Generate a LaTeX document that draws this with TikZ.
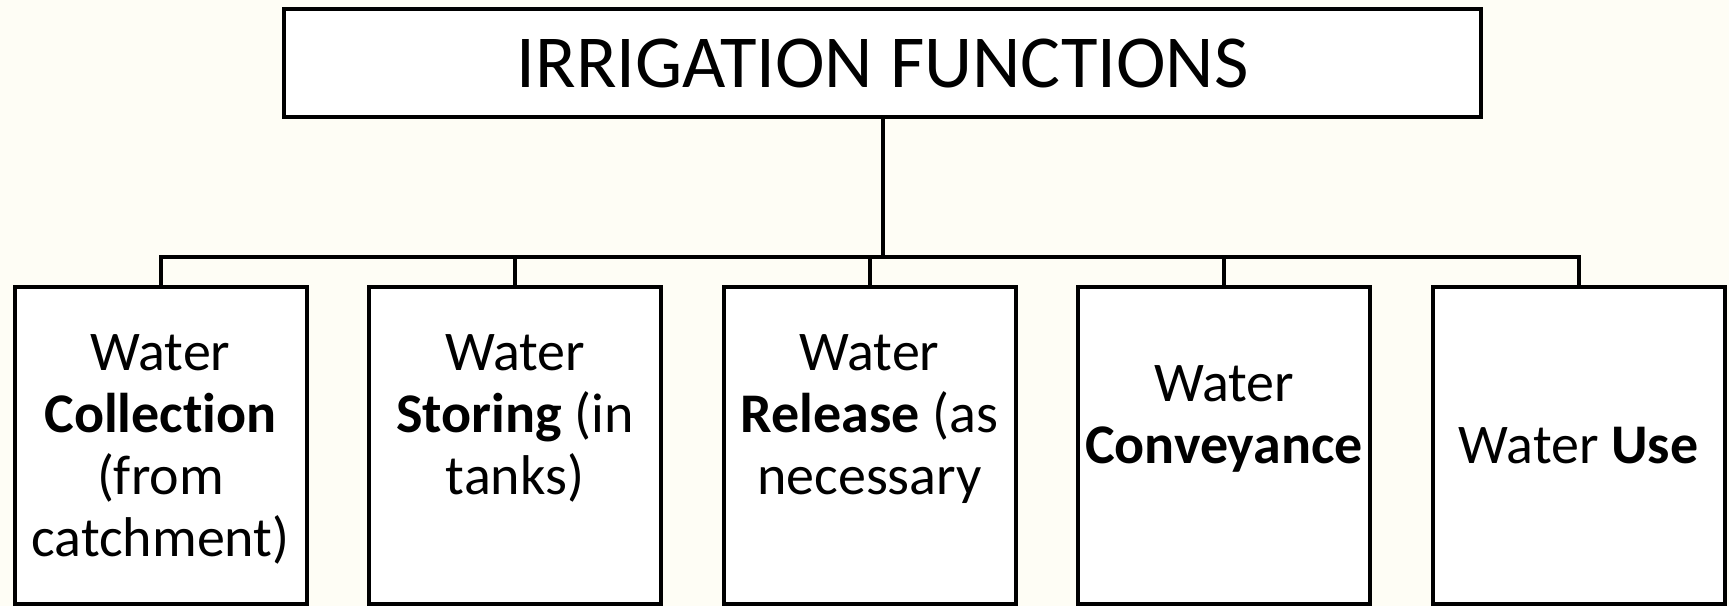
\documentclass[tikz,border=0pt]{standalone}
\usepackage{fontspec}
\setmainfont{Carlito}[Ligatures=NoCommon]
\definecolor{paper}{RGB}{254,253,245}
\tikzset{
	% Two node styles for the chart: heading box and function box
	heading node/.style={rectangle,draw,fill=white,inner sep=0pt,minimum width=598.5pt,minimum height=54pt,font=\fontsize{37.4}{44}\selectfont},
	function node/.style={rectangle,draw,fill=white,inner sep=0pt,minimum width=146pt,minimum height=158.5pt,align=center,font=\fontsize{28}{31}\selectfont}
}
\newcommand{\boxstrut}{\rule[-6pt]{0pt}{30pt}}

\begin{document}
\begin{tikzpicture}[x=1pt,y=1pt,line width=2pt]
			% background and page size
			\fill[paper] (0,0) rectangle (864.5,-303);
			\useasboundingbox (0,0) rectangle (864.5,-303);
			% Specify spacing for the level of the chart
			\tikzstyle{level 1}=[level distance=191.25pt,sibling distance=177.25pt,every child node/.style={xshift=-6.5pt}]
			\tikzstyle{edge from parent}=[draw]
			\tikzset{edge from parent path={(\tikzparentnode.south) -- ++(0,-69pt) -| (\tikzchildnode.north)}}

				\node(0)[heading node] at (441.25,-31.5) {IRRIGATION FUNCTIONS}
				child{node(0-1)[function node]{\boxstrut Water\\ \textbf{Collection}\\ (from\\ catchment)\boxstrut}}
				child{node(0-2)[function node]{\boxstrut Water\\ \textbf{Storing} (in\\ tanks)\\ \boxstrut}}
				child{node(0-3)[function node]{\boxstrut Water\\ \textbf{Release} (as\\ necessary\\ \boxstrut}}
				child{node(0-4)[function node]{\boxstrut Water\\ \textbf{Conveyance}\\ \boxstrut}}
				child{node(0-5)[function node]{\boxstrut Water \textbf{Use}\boxstrut}}
			;
\end{tikzpicture}
\end{document}
